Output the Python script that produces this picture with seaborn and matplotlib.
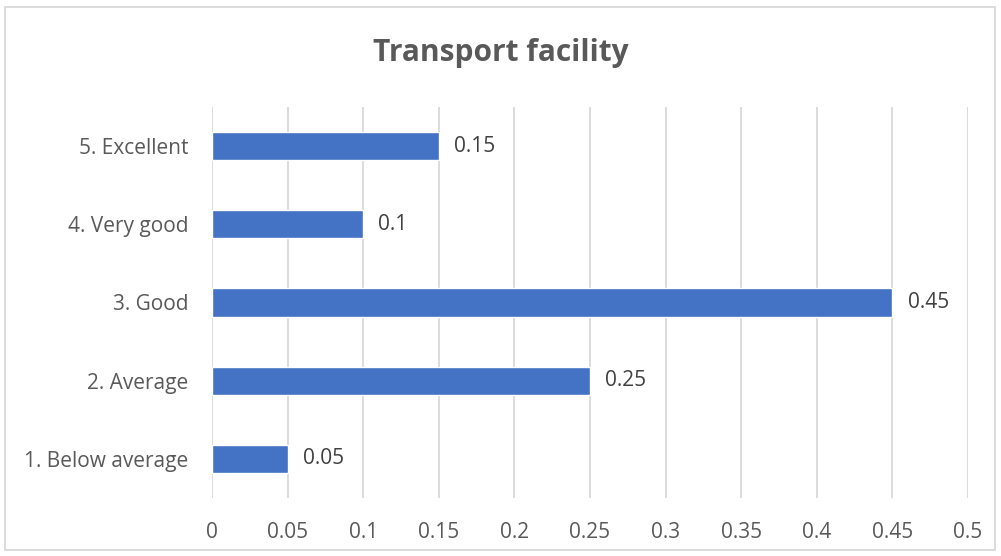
import matplotlib.pyplot as plt
import numpy as np
import pandas as pd
import seaborn as sns
from matplotlib.patches import Rectangle

# Data
categories = ["5. Excellent", "4. Very good", "3. Good", "2. Average", "1. Below average"]
shares = [0.15, 0.1, 0.45, 0.25, 0.05]
x_ticks = [0, 0.05, 0.1, 0.15, 0.2, 0.25, 0.3, 0.35, 0.4, 0.45, 0.5]
x_tick_labels = ["0", "0.05", "0.1", "0.15", "0.2", "0.25", "0.3", "0.35", "0.4", "0.45", "0.5"]

df = pd.DataFrame({"category": categories, "share": shares})

sns.set_style("white")
plt.rcParams['font.family'] = ['Open Sans', 'DejaVu Sans']

fig = plt.figure(figsize=(10.01, 5.56), dpi=100)
ax = fig.add_axes([212 / 1001, 1 - 498 / 556, (968 - 212) / 1001, (498 - 107) / 556])

sns.barplot(data=df, x="share", y="category", order=categories, color="#4472C4",
            width=0.36, orient="h", ax=ax, saturation=1)

# Data labels
ax.bar_label(ax.containers[0], labels=[f"{v:g}" for v in shares], padding=11,
             fontsize=15, color="#404040")

ax.set_xlim(0, 0.5)
ax.set_xticks(x_ticks)
ax.set_xticklabels(x_tick_labels)
ax.set_xlabel("")
ax.set_ylabel("")
ax.grid(axis="x", color="#D9D9D9", linewidth=1.3)
ax.set_axisbelow(True)
for side in ["top", "right", "bottom", "left"]:
    ax.spines[side].set_visible(False)
ax.tick_params(axis="both", length=0, labelsize=15, labelcolor="#595959")
ax.tick_params(axis="x", pad=17)
ax.tick_params(axis="y", pad=17)

fig.text(0.5, 1 - 53 / 556, "Transport facility", ha="center", va="center",
         fontsize=21.5, fontweight="bold", color="#595959")

# Outer chart border
fig.patches.append(Rectangle((5 / 1001, 1 - 550 / 556), 990 / 1001, 543 / 556,
                             transform=fig.transFigure, fill=False,
                             edgecolor="#D9D9D9", linewidth=1.3))

fig.savefig("out.png", dpi=100)
